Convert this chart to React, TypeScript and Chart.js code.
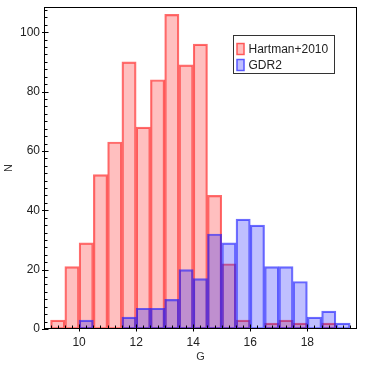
import React, { useEffect, useRef } from "react";
import { Chart, registerables } from "chart.js";
Chart.register(...registerables);

const binCenters = [9.25, 9.75, 10.25, 10.75, 11.25, 11.75, 12.25, 12.75, 13.25, 13.75, 14.25, 14.75, 15.25, 15.75, 16.25, 16.75, 17.25, 17.75, 18.25, 18.75, 19.25];
const hartman2010 = [3, 21, 29, 52, 63, 90, 68, 84, 106, 89, 96, 45, 22, 3, null, 2, 3, 2, null, 2, null];
const gdr2 = [null, null, 3, null, null, 4, 7, 7, 10, 20, 17, 32, 29, 37, 35, 21, 21, 16, 4, 6, 2];
const seriesLabels = ["Hartman+2010", "GDR2"];
const xTitle = "G";
const yTitle = "N";

const FONT = "'Liberation Sans', Arial, Helvetica, sans-serif";

const ticksPlugin = {
  id: "minorTicks",
  afterDatasetsDraw(chart: any) {
    const { ctx, chartArea } = chart;
    const xs = chart.scales.x;
    const ys = chart.scales.y;
    ctx.save();
    ctx.strokeStyle = "#000";
    ctx.lineWidth = 1;
    ctx.beginPath();
    for (let v = 0; v <= ys.max + 1e-9; v += 2.5) {
      const py = Math.round(ys.getPixelForValue(v)) + 0.5;
      const major = Math.abs(v % 20) < 1e-9;
      const x0 = chartArea.left + 0.5;
      ctx.moveTo(major ? x0 - 2.5 : x0, py);
      ctx.lineTo(x0 + (major ? 4 : 3), py);
    }
    const start = Math.ceil(xs.min / 0.25) * 0.25;
    for (let v = start; v <= xs.max + 1e-9; v += 0.25) {
      const px = Math.round(xs.getPixelForValue(v)) + 0.5;
      const major = Math.abs(v / 2 - Math.round(v / 2)) < 1e-9;
      const y0 = chartArea.bottom - 0.5;
      ctx.moveTo(px, major ? y0 + 3 : y0);
      ctx.lineTo(px, y0 - (major ? 4 : 3));
    }
    ctx.stroke();
    ctx.strokeRect(
      chartArea.left + 0.5,
      chartArea.top + 0.5,
      chartArea.right - chartArea.left - 1,
      chartArea.bottom - chartArea.top - 1
    );
    ctx.restore();
  },
};

const legendPlugin = {
  id: "boxLegend",
  afterDraw(chart: any) {
    const { ctx, chartArea } = chart;
    const bx = chartArea.right - 123.5;
    const by = chartArea.top + 28.5;
    const bw = 101;
    const bh = 38;
    ctx.save();
    ctx.fillStyle = "#fff";
    ctx.fillRect(bx, by, bw, bh);
    ctx.strokeStyle = "#333";
    ctx.lineWidth = 1;
    ctx.strokeRect(bx, by, bw, bh);
    ctx.font = `12px ${FONT}`;
    ctx.textBaseline = "middle";
    chart.data.datasets.forEach((ds: any, i: number) => {
      const cy = by + 13.5 + i * 16;
      ctx.fillStyle = ds.backgroundColor;
      ctx.fillRect(bx + 3, cy - 6, 8, 12);
      ctx.strokeStyle = ds.borderColor;
      ctx.lineWidth = 1.5;
      ctx.strokeRect(bx + 3.5, cy - 5.5, 7, 11);
      ctx.fillStyle = "#222";
      ctx.fillText(ds.label, bx + 15, cy + 0.5);
    });
    ctx.restore();
  },
};

const zeroPad = (s: any) => {
  s.paddingTop = 0;
  s.paddingBottom = 0;
  s.paddingLeft = 0;
  s.paddingRight = 0;
};

export default function App() {
  const ref = useRef<HTMLCanvasElement | null>(null);
  useEffect(() => {
    if (!ref.current) return;
    const chart = new Chart(ref.current, {
      type: "bar",
      data: {
        datasets: [
          {
            label: seriesLabels[0],
            data: binCenters.map((x, i) => ({ x, y: hartman2010[i] })) as any,
            backgroundColor: "rgba(255,0,0,0.25)",
            borderColor: "rgba(255,30,30,0.65)",
            borderWidth: 1.5,
            borderSkipped: false,
            grouped: false,
            barPercentage: 1,
            categoryPercentage: 1,
            order: 2,
          } as any,
          {
            label: seriesLabels[1],
            data: binCenters.map((x, i) => ({ x, y: gdr2[i] })) as any,
            backgroundColor: "rgba(0,0,255,0.25)",
            borderColor: "rgba(30,30,255,0.65)",
            borderWidth: 1.5,
            borderSkipped: false,
            grouped: false,
            barPercentage: 1,
            categoryPercentage: 1,
            order: 1,
          } as any,
        ],
      },
      options: {
        responsive: false,
        animation: false,
        layout: { padding: { left: 0, top: 7, right: 9, bottom: 0 } },
        plugins: {
          legend: { display: false },
          tooltip: { enabled: false },
        },
        scales: {
          x: {
            type: "linear",
            min: 8.77,
            max: 19.74,
            offset: false,
            grid: { display: false, drawTicks: false },
            border: { display: false },
            ticks: {
              stepSize: 2,
              includeBounds: false,
              padding: 6,
              color: "#222",
              font: { family: FONT, size: 12 },
              maxRotation: 0,
            },
            title: {
              display: true,
              text: xTitle,
              color: "#333",
              font: { family: FONT, size: 11 },
              padding: { top: 0, bottom: 2 },
            },
            afterFit: (s: any) => {
              s.height = 37;
              zeroPad(s);
            },
          },
          y: {
            type: "linear",
            min: 0,
            max: 108.5,
            grid: { display: false, drawTicks: false },
            border: { display: false },
            ticks: {
              stepSize: 20,
              includeBounds: false,
              padding: 4,
              color: "#222",
              font: { family: FONT, size: 12 },
            },
            title: {
              display: true,
              text: yTitle,
              color: "#333",
              font: { family: FONT, size: 11 },
              padding: { top: 2, bottom: 0 },
            },
            afterFit: (s: any) => {
              s.width = 44;
              zeroPad(s);
            },
          },
        },
      },
      plugins: [ticksPlugin, legendPlugin],
    });
    return () => chart.destroy();
  }, []);
  return (
    <div style={{ position: "fixed", left: 0, top: 0, width: 366, height: 366, background: "#fff" }}>
      <canvas ref={ref} width={366} height={366} style={{ display: "block", width: 366, height: 366 }} />
    </div>
  );
}
